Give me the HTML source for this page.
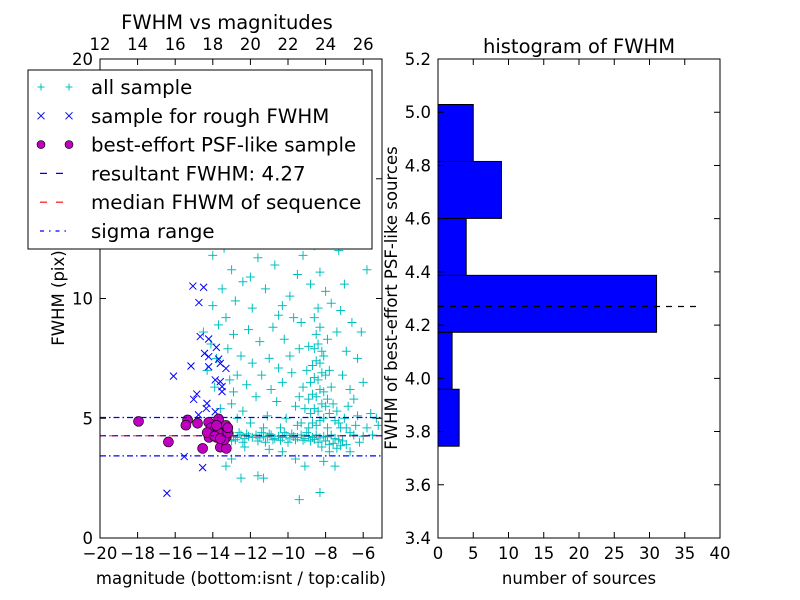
<!DOCTYPE html>
<html><head><meta charset="utf-8"><style>
html,body{margin:0;padding:0;background:#fff;}
svg{display:block;font-family:"DejaVu Sans","Liberation Sans",sans-serif;}
</style></head><body>
<svg id="chart" width="800" height="600" viewBox="0 0 800 600"></svg>
<script>
// ---------- data ----------
const allSample = [[-12.9,4.25],[-12.7,4.2],[-12.5,4.3],[-12.3,4.15],[-12.1,4.25],[-11.9,4.2],[-11.7,4.3],[-11.5,4.18],[-11.3,4.25],[-11.1,4.22],[-10.9,4.3],[-10.7,4.15],[-10.5,4.25],[-10.3,4.2],[-10.1,4.28],[-9.9,4.18],[-9.7,4.24],[-9.5,4.2],[-9.3,4.3],[-9.1,4.15],[-8.9,4.25],[-8.7,4.2],[-8.5,4.3],[-8.3,4.18],[-8.1,4.25],[-7.9,4.22],[-7.7,4.3],[-7.5,4.15],[-7.3,4.1],[-7.1,4.05],[-12.8,4.1],[-12.2,4.35],[-11.6,4.05],[-11.0,4.35],[-10.4,4.08],[-9.8,4.35],[-9.2,4.08],[-8.6,4.12],[-8.0,4.05],[-7.6,3.95],[-12.6,4.4],[-11.4,4.4],[-10.2,4.4],[-9.0,4.4],[-8.4,4.0],[-7.8,3.9],[-7.2,3.85],[-10.8,4.1],[-9.6,4.1],[-8.8,4.05],[-13.0,4.05],[-12.4,4.0],[-11.2,4.0],[-10.0,4.0],[-8.2,3.8],[-7.4,3.75],[-6.9,3.9],[-6.5,4.3],[-6.0,4.25],[-5.5,4.3],[-6.2,4.0],[-5.8,4.6],[-5.3,5.0],[-5.2,4.7],
[-8.9,4.6],[-8.7,4.8],[-8.5,4.7],[-8.3,4.9],[-8.1,5.0],[-7.9,4.6],[-8.8,5.2],[-8.6,5.4],[-8.4,5.3],[-8.2,5.6],[-8.0,5.5],[-7.8,5.2],[-8.9,5.8],[-8.7,6.0],[-8.5,5.9],[-8.3,6.2],[-8.1,6.1],[-7.9,5.8],[-8.8,6.5],[-8.6,6.7],[-8.4,6.6],[-8.2,6.9],[-8.0,6.8],[-8.7,7.2],[-8.5,7.4],[-8.3,7.3],[-8.1,7.6],[-8.6,7.9],[-8.4,8.1],[-8.2,7.8],[-8.5,8.5],[-8.3,8.8],[-8.6,9.2],[-8.4,9.6],[-9.1,5.4],[-9.2,6.3],[-9.0,7.0],[-7.7,6.3],[-7.6,5.6],[-7.5,4.9],[-7.4,5.3],[-7.3,4.8],[-9.3,4.8],[-9.4,5.9],[-7.8,7.0],[-8.9,8.0],[-7.2,4.6],[-7.0,5.0],[-6.8,5.5],[-6.5,5.8],[-6.3,5.1],[-6.9,4.6],[-7.1,6.8],[-6.7,4.4],[-6.4,4.7],
[-14.0,9.7],[-13.5,10.4],[-13.0,11.2],[-12.8,9.9],[-12.4,10.7],[-13.4,12.1],[-12.6,12.6],[-11.6,11.7],[-11.2,10.4],[-10.7,11.4],[-10.3,9.7],[-9.9,10.1],[-9.5,11.0],[-9.2,11.8],[-8.9,12.3],[-8.3,11.1],[-8.0,10.3],[-7.7,9.8],[-7.2,9.5],[-6.6,9.0],[-5.8,11.2],[-6.3,7.5],[-6.9,7.8],[-7.4,8.6],[-9.7,9.2],[-10.2,8.3],[-10.8,8.8],[-11.5,8.2],[-12.1,8.7],[-12.9,8.5],[-13.3,9.2],[-13.7,8.9],[-14.1,8.1],[-13.2,7.9],[-12.5,7.6],[-11.9,7.3],[-11.0,7.5],[-10.5,7.1],[-9.9,7.6],[-9.4,7.9],[-12.7,6.8],[-12.2,6.4],[-11.4,6.8],[-10.9,6.2],[-10.3,6.5],[-9.8,6.9],[-12.9,6.1],[-11.7,5.9],[-10.6,5.7],[-9.6,5.5],[-12.4,5.3],[-11.1,5.1],[-10.1,5.0],[-9.5,4.7],[-12.0,4.8],[-11.3,4.6],[-10.4,4.6],[-12.7,5.0],[-13.0,5.6],[-13.1,6.6],[-13.0,3.3],[-12.5,2.5],[-11.6,2.6],[-11.3,2.5],[-9.6,3.3],[-9.4,1.6],[-9.1,3.0],[-8.3,1.9],[-7.8,3.6],[-8.1,3.2],[-7.5,3.0],[-6.7,3.6],[-12.3,3.8],[-11.0,3.7],[-10.3,3.6],[-13.3,3.0],[-14.0,11.8],[-13.7,12.8],[-11.2,12.3],[-9.8,12.9],[-8.6,12.2],[-7.3,12.0],[-11.9,9.6],[-10.5,9.3],[-6.1,8.6],[-7.0,10.6],[-8.8,10.6],[-12.0,10.9],[-6.7,6.2],[-5.6,5.2],[-6.0,6.5],[-13.6,5.4],[-13.9,6.3],[-13.8,7.5],[-14.3,7.0],[-14.5,8.6],[-9.3,9.0],[-7.9,8.3]];
const roughSample = [[-15.06,10.52],[-14.49,10.47],[-14.74,9.83],[-14.67,8.41],[-14.22,8.31],[-13.81,7.96],[-14.44,7.71],[-14.22,7.57],[-13.69,7.47],[-13.6,7.29],[-13.3,7.08],[-15.16,7.18],[-14.22,7.15],[-16.09,6.76],[-13.87,6.6],[-13.6,6.53],[-13.51,6.32],[-13.51,6.11],[-14.85,6.01],[-15.02,5.79],[-14.31,5.62],[-14.35,5.41],[-13.87,5.27],[-14.76,5.14],[-15.52,3.4],[-14.54,2.94],[-16.44,1.87]];
const psfSample = [[-17.95,4.87],[-16.36,4.01],[-15.34,4.93],[-15.43,4.71],[-14.81,4.79],[-14.54,3.74],[-14.22,4.83],[-13.69,4.97],[-13.6,3.79],[-13.28,3.74],[-14.1,4.6],[-13.9,4.5],[-13.6,4.6],[-13.4,4.5],[-13.3,4.7],[-14.0,4.3],[-13.8,4.2],[-13.5,4.3],[-13.3,4.2],[-14.2,4.2],[-13.7,4.4],[-13.4,4.1],[-14.3,4.4],[-13.2,4.4],[-13.9,4.25],[-13.6,4.15],[-13.2,4.6],[-13.8,4.7]];
const resultFWHM = 4.27;
const medianFWHM = 4.27;
const sigmaRange = [3.43, 5.03];
const binEdges = [3.745,3.959,4.173,4.387,4.601,4.815,5.029];
const binCounts = [3,2,31,4,9,5];
const leftXTicks = [-20,-18,-16,-14,-12,-10,-8,-6];
const leftYTicks = [0,5,10,15,20];
const topTicks = [12,14,16,18,20,22,24,26];
const rightXTicks = [0,5,10,15,20,25,30,35,40];
const rightYTicks = [3.4,3.6,3.8,4.0,4.2,4.4,4.6,4.8,5.0,5.2];

// ---------- scales ----------
const L = {x0:100,x1:382,y0:538,y1:59};
const lx = v => L.x0 + (v+20)/15*(L.x1-L.x0);
const ly = v => L.y0 - v/20*(L.y0-L.y1);
const tx = v => lx(v-32);
const R = {x0:438,x1:720,y0:538,y1:59};
const rx = v => R.x0 + v/40*(R.x1-R.x0);
const ry = v => R.y0 - (v-3.4)/1.8*(R.y0-R.y1);
const FT = 16.5, FL = 16.5, FTI = 19.5, FLEG = 19.8;

const svg = document.getElementById('chart');
const NS = 'http://www.w3.org/2000/svg';
function mk(tag, attrs, parent){const e=document.createElementNS(NS,tag);for(const k in attrs)e.setAttribute(k,attrs[k]);(parent||svg).appendChild(e);return e;}
function txt(s, attrs, parent){const e=mk('text',attrs,parent);e.textContent=s;return e;}

// ---------- left plot ----------
const gL = mk('g',{});


const clipDef = mk('defs',{});
const cp = mk('clipPath',{id:'clipL'},clipDef);
mk('rect',{x:L.x0,y:L.y1,width:L.x1-L.x0,height:L.y0-L.y1},cp);
const gPts = mk('g',{'clip-path':'url(#clipL)'},gL);
allSample.forEach(p=>{
  const x=lx(p[0]), y=ly(p[1]);
  const e=mk('path',{d:`M${x-4.5},${y}H${x+4.5}M${x},${y-4.5}V${y+4.5}`,stroke:'#00bfbf','stroke-width':1},gPts);
  
  
});
roughSample.forEach(p=>{
  const x=lx(p[0]), y=ly(p[1]);
  const e=mk('path',{d:`M${x-3.5},${y-3.5}L${x+3.5},${y+3.5}M${x-3.5},${y+3.5}L${x+3.5},${y-3.5}`,stroke:'#0000ff','stroke-width':1},gPts);
  
  
});
psfSample.forEach(p=>{
  const e=mk('circle',{cx:lx(p[0]),cy:ly(p[1]),r:5,fill:'#bf00bf',stroke:'#000','stroke-width':0.6},gPts);
  
  
});
let ln=mk('line',{x1:L.x0,x2:L.x1,y1:ly(resultFWHM),y2:ly(resultFWHM),stroke:'#0000ff','stroke-width':1.2,'stroke-dasharray':'6,6'},gPts);


ln=mk('line',{x1:L.x0,x2:L.x1,y1:ly(medianFWHM),y2:ly(medianFWHM),stroke:'#ff0000','stroke-width':1.2,'stroke-dasharray':'6,6','stroke-dashoffset':3,opacity:0.7},gPts);


sigmaRange.forEach(s=>{
  const e=mk('line',{x1:L.x0,x2:L.x1,y1:ly(s),y2:ly(s),stroke:'#0000ff','stroke-width':1.2,'stroke-dasharray':'6,3,1.5,3'},gPts);
  
  
});
mk('rect',{x:L.x0,y:L.y1,width:L.x1-L.x0,height:L.y0-L.y1,fill:'none',stroke:'#000','stroke-width':1},gL);
leftXTicks.forEach(v=>{
  const x=lx(v);
  mk('path',{d:`M${x},${L.y0}v-6`,stroke:'#000'},gL);
  const t=txt((v<0?'\u2212':'')+Math.abs(v),{x:x,y:L.y0+21,'font-size':FT,'text-anchor':'middle'},gL);
  
  
});
topTicks.forEach(v=>{
  const x=tx(v);
  mk('path',{d:`M${x},${L.y1}v6`,stroke:'#000'},gL);
  const t=txt(String(v),{x:x,y:L.y1-9,'font-size':FT,'text-anchor':'middle'},gL);
  
  
});
leftYTicks.forEach(v=>{
  const y=ly(v);
  mk('path',{d:`M${L.x0},${y}h6M${L.x1},${y}h-6`,stroke:'#000'},gL);
  const t=txt(String(v),{x:L.x0-7,y:y+6,'font-size':FT,'text-anchor':'end'},gL);
  
  
});
let t=txt('magnitude (bottom:isnt / top:calib)',{x:241,y:584,'font-size':FL,'text-anchor':'middle'},gL);


t=txt('FWHM (pix)',{x:0,y:0,'font-size':FL,'text-anchor':'middle',transform:'translate(64,298) rotate(-90)'},gL);


t=txt('FWHM vs magnitudes',{x:227,y:29,'font-size':FTI,'text-anchor':'middle'},gL);



// legend
const gLeg = mk('g',{});


mk('rect',{x:28,y:70,width:344,height:179,fill:'#fff',stroke:'#000','stroke-width':1},gLeg);
const legLabels=['all sample','sample for rough FWHM','best-effort PSF-like sample','resultant FWHM: 4.27','median FHWM of sequence','sigma range'];
legLabels.forEach((s,i)=>{
  const y=87+i*28.8;
  const g=mk('g',{},gLeg);
  
  
  if(i===0){[41,69].forEach(x=>mk('path',{d:`M${x-3.5},${y}h7M${x},${y-3.5}v7`,stroke:'#00bfbf'},g));}
  if(i===1){[41,69].forEach(x=>mk('path',{d:`M${x-3.5},${y-3.5}l7,7M${x-3.5},${y+3.5}l7,-7`,stroke:'#0000ff'},g));}
  if(i===2){[41,69].forEach(x=>mk('circle',{cx:x,cy:y,r:4,fill:'#bf00bf',stroke:'#000','stroke-width':0.6},g));}
  if(i===3)mk('line',{x1:40,x2:70,y1:y,y2:y,stroke:'#0000ff','stroke-dasharray':'7,9','stroke-width':1.2},g);
  if(i===4)mk('line',{x1:40,x2:70,y1:y,y2:y,stroke:'#ff0000','stroke-dasharray':'7,9','stroke-width':1.2},g);
  if(i===5)mk('line',{x1:40,x2:70,y1:y,y2:y,stroke:'#0000ff','stroke-dasharray':'4,5,1.5,5','stroke-width':1.2},g);
  txt(s,{x:91,y:y+7,'font-size':FLEG},g);
});

// ---------- right plot ----------
const gR = mk('g',{});


binCounts.forEach((c,i)=>{
  const yTop=ry(binEdges[i+1]), yBot=ry(binEdges[i]);
  const e=mk('rect',{x:rx(0),y:yTop,width:rx(c)-rx(0),height:yBot-yTop,fill:'#0000ff',stroke:'#000','stroke-width':1},gR);
  
  
});
ln=mk('line',{x1:rx(0),x2:rx(37),y1:ry(resultFWHM),y2:ry(resultFWHM),stroke:'#000','stroke-width':1.2,'stroke-dasharray':'6,6'},gR);


mk('rect',{x:R.x0,y:R.y1,width:R.x1-R.x0,height:R.y0-R.y1,fill:'none',stroke:'#000','stroke-width':1},gR);
rightXTicks.forEach(v=>{
  const x=rx(v);
  mk('path',{d:`M${x},${R.y0}v-6M${x},${R.y1}v6`,stroke:'#000'},gR);
  const e=txt(String(v),{x:x,y:R.y0+21,'font-size':FT,'text-anchor':'middle'},gR);
  
  
});
rightYTicks.forEach(v=>{
  const y=ry(v);
  mk('path',{d:`M${R.x0},${y}h6M${R.x1},${y}h-6`,stroke:'#000'},gR);
  const e=txt(v.toFixed(1),{x:R.x0-7,y:y+6,'font-size':FT,'text-anchor':'end'},gR);
  
  
});
t=txt('number of sources',{x:579,y:584,'font-size':FL,'text-anchor':'middle'},gR);


t=txt('FWHM of best-effort PSF-like sources',{x:0,y:0,'font-size':FL,'text-anchor':'middle',transform:'translate(397,298) rotate(-90)'},gR);


t=txt('histogram of FWHM',{x:579,y:53,'font-size':FTI,'text-anchor':'middle'},gR);


</script>
</body></html>
